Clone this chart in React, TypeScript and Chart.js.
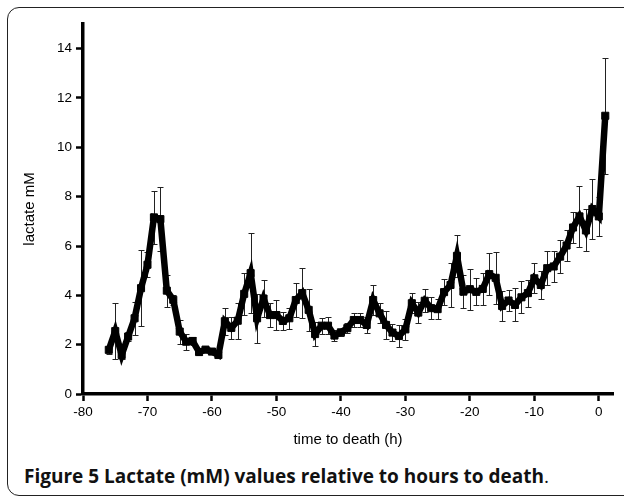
import React, { useEffect, useRef } from "react";
import { Chart, registerables } from "chart.js";

Chart.register(...registerables);

const hours: number[] = [
  -76, -75, -74, -73, -72, -71, -70, -69, -68, -67, -66, -65, -64, -63, -62, -61, -60, -59, -58, -57,
  -56, -55, -54, -53, -52, -51, -50, -49, -48, -47, -46, -45, -44, -43, -42, -41, -40, -39, -38, -37,
  -36, -35, -34, -33, -32, -31, -30, -29, -28, -27, -26, -25, -24, -23, -22, -21, -20, -19, -18, -17,
  -16, -15, -14, -13, -12, -11, -10, -9, -8, -7, -6, -5, -4, -3, -2, -1, 0, 1,
];

const lactate: number[] = [
  1.79, 2.55, 1.58, 2.33, 3.07, 4.29, 5.24, 7.16, 7.09, 4.19, 3.82, 2.53, 2.12, 2.15, 1.7, 1.8, 1.72, 1.58, 2.95, 2.68,
  2.97, 4.06, 4.9, 3.07, 3.87, 3.2, 3.2, 2.96, 3.07, 3.81, 4.09, 3.41, 2.43, 2.77, 2.77, 2.37, 2.5, 2.67, 3.0, 3.0,
  2.8, 3.81, 3.27, 2.8, 2.49, 2.35, 2.62, 3.68, 3.3, 3.78, 3.48, 3.44, 4.13, 4.42, 5.6, 4.15, 4.25, 4.14, 4.26, 4.86,
  4.71, 3.57, 3.79, 3.61, 3.92, 4.09, 4.69, 4.42, 5.1, 5.17, 5.57, 6.02, 6.75, 7.2, 6.63, 7.5, 7.2, 11.28,
];

const errors: number[] = [
  0.15, 1.12, 0.15, 0.2, 0.66, 1.55, 0.5, 1.08, 1.3, 0.65, 0.2, 0.49, 0.33, 0.15, 0.1, 0.1, 0.1, 0.1, 0.55, 0.43,
  0.73, 0.85, 1.62, 0.99, 0.74, 0.5, 0.6, 0.38, 0.43, 0.68, 1.0, 0.85, 0.47, 0.33, 0.34, 0.22, 0.15, 0.2, 0.27, 0.3,
  0.34, 0.59, 0.41, 0.57, 0.35, 0.45, 0.43, 0.41, 0.43, 0.47, 0.45, 0.41, 0.54, 0.88, 0.86, 0.68, 0.83, 0.55, 0.64, 0.85,
  1.05, 0.6, 0.44, 0.67, 0.65, 0.55, 0.61, 0.56, 0.69, 0.64, 0.66, 0.63, 0.63, 1.23, 0.85, 1.21, 0.8, 2.35,
];

const xTickValues: number[] = [-80, -70, -60, -50, -40, -30, -20, -10, 0];
const yTickValues: number[] = [0, 2, 4, 6, 8, 10, 12, 14];

const xTitle = "time to death (h)";
const yTitle = "lactate mM";
const captionBold = "Figure 5 Lactate (mM) values relative to hours to death";

const errorBarPlugin = {
  id: "errorBars",
  beforeDatasetsDraw(chart: any) {
    const { ctx, scales } = chart;
    const xs = scales.x;
    const ys = scales.y;
    ctx.save();
    ctx.strokeStyle = "#222";
    ctx.lineWidth = 1;
    hours.forEach((h, i) => {
      const px = Math.round(xs.getPixelForValue(h)) + 0.5;
      const top = Math.round(ys.getPixelForValue(lactate[i] + errors[i])) + 0.5;
      const bot = Math.round(ys.getPixelForValue(lactate[i] - errors[i])) + 0.5;
      ctx.beginPath();
      ctx.moveTo(px, top);
      ctx.lineTo(px, bot);
      ctx.moveTo(px - 3, top);
      ctx.lineTo(px + 3, top);
      ctx.moveTo(px - 3, bot);
      ctx.lineTo(px + 3, bot);
      ctx.stroke();
    });
    ctx.restore();
  },
};

export default function App() {
  const canvasRef = useRef<HTMLCanvasElement | null>(null);

  useEffect(() => {
    if (!canvasRef.current) return;
    const tickFont = { family: "'Liberation Sans', Arial, sans-serif", size: 13.5 };
    const titleFont = { family: "'Liberation Sans', Arial, sans-serif", size: 15 };
    const chart = new Chart(canvasRef.current, {
      type: "line",
      data: {
        datasets: [
          {
            data: hours.map((h, i) => ({ x: h, y: lactate[i] })),
            borderColor: "#000",
            backgroundColor: "#000",
            borderWidth: 6.5,
            pointStyle: "rect",
            pointRadius: 5,
            pointBorderWidth: 1,
            pointBorderColor: "#000",
            pointBackgroundColor: "#000",
            tension: 0,
          },
        ],
      },
      options: {
        animation: false,
        responsive: false,
        maintainAspectRatio: false,
        layout: { padding: { top: 24, right: 11, left: 0, bottom: 0 } },
        plugins: { legend: { display: false }, tooltip: { enabled: false } },
        scales: {
          x: {
            type: "linear",
            min: -80,
            max: 2.2,
            afterBuildTicks: (scale: any) => {
              scale.ticks = xTickValues.map((v) => ({ value: v }));
            },
            afterFit: (scale: any) => {
              scale.height = 66;
            },
            ticks: { font: tickFont, color: "#000", padding: 3, maxRotation: 0 },
            grid: {
              display: true,
              drawOnChartArea: false,
              drawTicks: true,
              tickLength: 7,
              tickWidth: 2.5,
              tickColor: "#000",
            },
            border: { display: true, color: "#000", width: 3.5 },
            title: {
              display: true,
              text: xTitle,
              font: titleFont,
              color: "#000",
              padding: { top: 4, bottom: 11 },
            },
          },
          y: {
            type: "linear",
            min: 0,
            max: 15,
            afterBuildTicks: (scale: any) => {
              scale.ticks = yTickValues.map((v) => ({ value: v }));
            },
            afterFit: (scale: any) => {
              scale.width = 83;
            },
            ticks: { font: tickFont, color: "#000", padding: 4 },
            grid: {
              display: true,
              drawOnChartArea: false,
              drawTicks: true,
              tickLength: 7,
              tickWidth: 2.5,
              tickColor: "#000",
            },
            border: { display: true, color: "#000", width: 3.5 },
            title: {
              display: true,
              text: yTitle,
              font: titleFont,
              color: "#000",
              padding: { top: 21, bottom: 4 },
            },
          },
        },
      },
      plugins: [errorBarPlugin],
    });
    return () => chart.destroy();
  }, []);

  return (
    <div
      style={{
        position: "fixed",
        left: 0,
        top: 0,
        width: 624,
        height: 497,
        overflow: "hidden",
        background: "#fff",
      }}
    >
      <div
        style={{
          position: "absolute",
          left: 7,
          top: 7,
          width: 700,
          height: 489,
          border: "1.5px solid #222",
          borderRadius: 12,
          boxSizing: "border-box",
        }}
      />
      <canvas
        ref={canvasRef}
        width={624}
        height={460}
        style={{ position: "absolute", left: 0, top: 0, width: 624, height: 460 }}
      />
      <div
        style={{
          position: "absolute",
          left: 24,
          top: 467,
          fontFamily: "'Open Sans', sans-serif",
          fontSize: 19,
          lineHeight: "19px",
          color: "#111",
          whiteSpace: "nowrap",
        }}
      >
        <span style={{ fontWeight: 700 }}>{captionBold}</span>
        <span style={{ fontWeight: 400 }}>.</span>
      </div>
    </div>
  );
}
